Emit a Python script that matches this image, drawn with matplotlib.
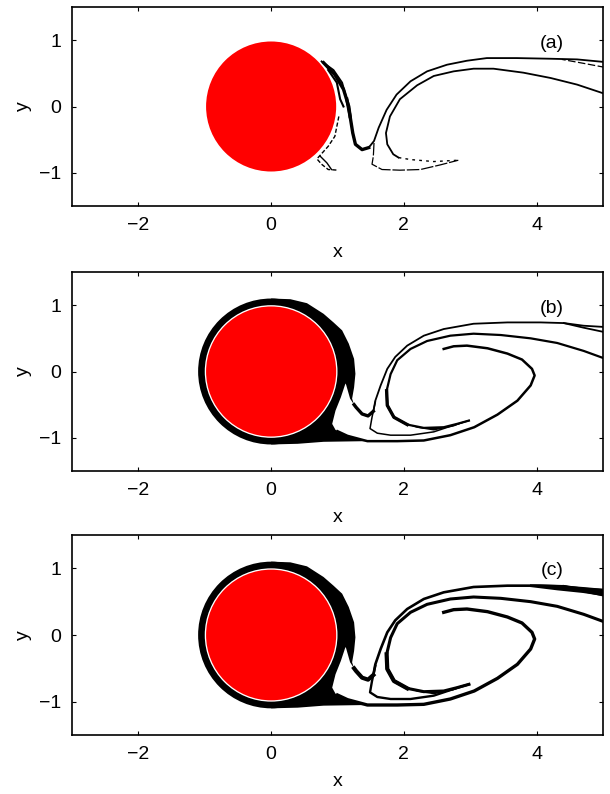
import matplotlib
matplotlib.use("Agg")
import matplotlib.pyplot as plt
from matplotlib.patches import Circle

plt.rcParams['font.family'] = ['Liberation Sans', 'DejaVu Sans']
plt.rcParams['font.size'] = 14
plt.rcParams['lines.solid_joinstyle'] = 'round'

W, H = 610, 794

# panel (a), strands
a1_x = [5.03, 4.61, 4.21, 3.70, 3.25, 2.95, 2.65, 2.35, 2.10, 1.89, 1.74, 1.62, 1.55, 1.47, 1.37, 1.27, 1.23, 1.19, 1.14, 1.07, 0.94, 0.76]
a1_y = [0.67, 0.71, 0.72, 0.73, 0.73, 0.69, 0.63, 0.53, 0.38, 0.18, -0.05, -0.32, -0.52, -0.62, -0.65, -0.57, -0.40, -0.15, 0.11, 0.36, 0.55, 0.68]
a2_x = [5.03, 4.61, 4.21, 3.80, 3.35, 3.05, 2.75, 2.45, 2.20, 1.94, 1.79, 1.73, 1.75, 1.84, 1.92]
a2_y = [0.19, 0.33, 0.43, 0.51, 0.57, 0.57, 0.53, 0.46, 0.32, 0.11, -0.15, -0.40, -0.57, -0.72, -0.77]
a3_x = [5.03, 4.71, 4.38]
a3_y = [0.59, 0.65, 0.71]
a4_x = [1.55, 1.54, 1.52, 1.67, 1.94, 2.25, 2.55, 2.82]
a4_y = [-0.55, -0.75, -0.87, -0.95, -0.96, -0.95, -0.88, -0.81]
a5_x = [0.79, 0.96, 1.09, 1.17, 1.19]
a5_y = [0.66, 0.48, 0.26, 0.0, -0.15]
a6_x = [0.86, 0.99, 1.04, 1.09]
a6_y = [0.55, 0.36, 0.11, 0.0]
a7_x = [1.02, 0.96, 0.86, 0.69, 0.76, 0.86, 1.01]
a7_y = [-0.15, -0.45, -0.60, -0.79, -0.87, -0.95, -0.96]
a8_x = [0.74, 0.84, 0.91]
a8_y = [-0.75, -0.85, -0.95]
a9_x = [1.92, 2.10, 2.45, 2.82]
a9_y = [-0.77, -0.80, -0.83, -0.81]

# black wake on the right of the cylinder, panels (b) and (c)
wake_x = [0.0, 0.29, 0.54, 0.79, 0.94, 1.07, 1.17, 1.25, 1.27, 1.25, 1.22, 1.25, 1.19, 1.13, 1.12, 1.05, 0.97, 0.92, 0.97, 1.15, 1.45, 0.79, 0.4, 0.0]
wake_y = [1.1, 1.09, 1.03, 0.87, 0.74, 0.62, 0.42, 0.19, -0.035, -0.24, -0.41, -0.5, -0.41, -0.2, -0.18, -0.39, -0.59, -0.79, -0.88, -0.97, -1.05, -1.06, -1.09, -1.1]

# strands of panels (b) and (c)
main_x = [1.25, 1.28, 1.37, 1.46, 1.54, 1.57, 1.65, 1.75, 1.87, 2.05, 2.30, 2.60, 3.05, 3.56, 4.06, 4.41, 4.71, 5.04]
main_y = [-0.5, -0.54, -0.64, -0.67, -0.60, -0.44, -0.21, 0.04, 0.22, 0.39, 0.54, 0.64, 0.72, 0.74, 0.74, 0.73, 0.69, 0.67]
mid_x = [4.41, 4.71, 5.04]
mid_y = [0.73, 0.66, 0.59]
inner_x = [5.04, 4.71, 4.31, 3.91, 3.46, 3.05, 2.70, 2.35, 2.10, 1.90, 1.80, 1.74, 1.75, 1.85, 2.05, 2.30, 2.60, 2.80, 2.98]
inner_y = [0.19, 0.31, 0.43, 0.50, 0.55, 0.57, 0.54, 0.46, 0.34, 0.17, -0.04, -0.29, -0.51, -0.69, -0.80, -0.85, -0.84, -0.79, -0.74]
outer_x = [1.0, 1.15, 1.45, 1.90, 2.30, 2.70, 3.06, 3.41, 3.71, 3.91, 3.97, 3.93, 3.78, 3.56, 3.26, 2.95, 2.75, 2.60]
outer_y = [-0.90, -0.97, -1.05, -1.05, -1.04, -0.96, -0.84, -0.65, -0.44, -0.21, -0.06, 0.04, 0.18, 0.27, 0.35, 0.39, 0.38, 0.34]
low_x = [1.57, 1.52, 1.49, 1.60, 1.80, 2.10, 2.45, 2.75, 2.98]
low_y = [-0.46, -0.69, -0.86, -0.93, -0.96, -0.96, -0.91, -0.81, -0.74]
wedge_x = [2.05, 2.30, 2.60, 2.98, 2.75, 2.45, 2.20]
wedge_y = [-0.80, -0.85, -0.84, -0.74, -0.83, -0.89, -0.85]
band_x = [3.9, 4.31, 4.7, 5.04, 5.04, 4.7, 4.31, 3.9]
band_y = [0.76, 0.75, 0.72, 0.69, 0.58, 0.63, 0.67, 0.72]

tick_x = [-2, 0, 2, 4]
tick_y = [-1, 0, 1]
tops = [7, 272, 535]
bottoms = [206, 471, 735]
tags = ['(a)', '(b)', '(c)']
tag_y = [0.95, 0.95, 0.97]
ring_r = 1.1
white_r = 1.0
red_r = 0.98

fig = plt.figure(figsize=(W / 100, H / 100), dpi=100)
axes = []
for top, bot in zip(tops, bottoms):
    ax = fig.add_axes([72 / W, 1 - bot / H, 531 / W, (bot - top) / H])
    ax.set_xlim(-3, 5)
    ax.set_ylim(-1.5, 1.5)
    ax.set_xticks(tick_x)
    ax.set_yticks(tick_y)
    ax.tick_params(direction='in', length=3, width=0.8, top=True, right=True, pad=8)
    for s in ax.spines.values():
        s.set_linewidth(1.2)
    ax.set_xlabel('x', labelpad=7)
    ax.set_ylabel('y', labelpad=5)
    axes.append(ax)

ax = axes[0]
ax.plot(a1_x, a1_y, 'k', lw=1.3)
ax.plot(a2_x, a2_y, 'k', lw=1.3)
ax.plot(a1_x[13:19], a1_y[13:19], 'k', lw=2.4)
ax.plot(a3_x, a3_y, 'k', lw=0.9, ls=(0, (6, 2)))
ax.plot(a4_x, a4_y, 'k', lw=0.9, ls=(0, (10, 1.5)))
ax.plot(a5_x, a5_y, 'k', lw=2.4)
ax.plot(a6_x, a6_y, 'k', lw=1.5)
ax.plot(a7_x, a7_y, 'k', lw=1.0, ls=(0, (3, 1.5)))
ax.plot(a8_x, a8_y, 'k', lw=1.0)
ax.plot(a9_x, a9_y, 'k', lw=1.0, ls=(0, (2, 3)))

for ax, thin, neck in [(axes[1], 1.3, 2.4), (axes[2], 1.9, 3.0)]:
    ax.add_patch(Circle((0, 0), ring_r, fc='k', ec='none', zorder=2))
    ax.fill(wake_x, wake_y, 'k', lw=0, zorder=2)
    ax.plot(main_x, main_y, 'k', lw=thin)
    ax.plot(main_x[:5], main_y[:5], 'k', lw=neck)
    ax.plot(mid_x, mid_y, 'k', lw=thin)
    ax.plot(inner_x, inner_y, 'k', lw=thin + 0.3)
    ax.plot(inner_x[11:15], inner_y[11:15], 'k', lw=neck)
    ax.plot(outer_x, outer_y, 'k', lw=thin + 0.5)
    ax.plot(low_x, low_y, 'k', lw=thin - 0.2)
    ax.fill(wedge_x, wedge_y, 'k', lw=0)
    ax.add_patch(Circle((0, 0), white_r, fc='white', ec='none', zorder=3))

# the far right of (c) widens into a band
axes[2].fill(band_x, band_y, 'k', lw=0)

for ax, tag, ty in zip(axes, tags, tag_y):
    ax.add_patch(Circle((0, 0), red_r, fc='red', ec='none', zorder=4))
    ax.text(4.23, ty, tag, ha='center', va='center', fontsize=14, zorder=5)

fig.savefig('out.png', dpi=100)
